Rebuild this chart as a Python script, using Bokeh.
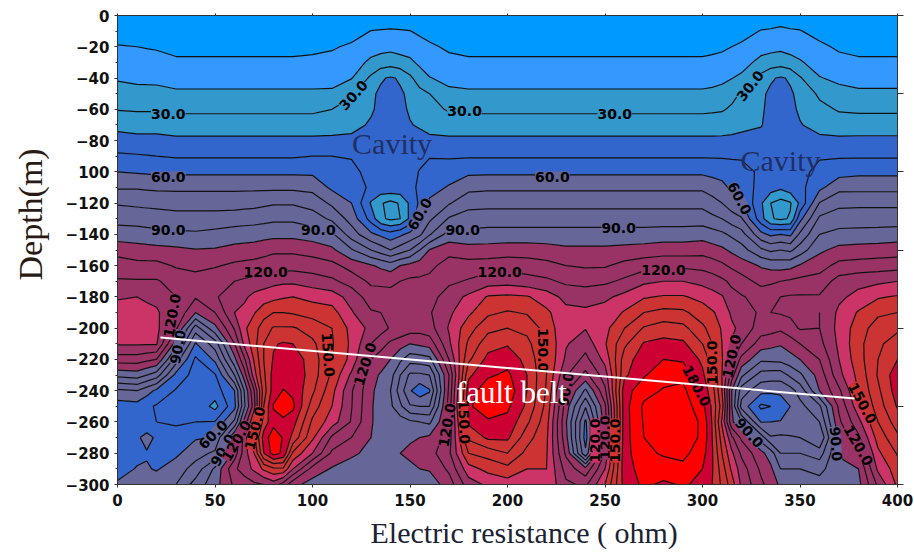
from bokeh.plotting import figure
from bokeh.embed import file_html
from bokeh.resources import INLINE
from bokeh.models import LinearAxis, FixedTicker, Range1d, Label, ColumnDataSource, Title
from bokeh.core.properties import value
import numpy as np

depths = list(range(0, -301, -10))

col_000 = [0,5.4,10.6,15,19,24,29.5,37,44,51.6,60,69,79,86.5,95,106,115,121,129,134,135,131,115,93,68,55,52,52,52,54,62]
col_010 = [0,5,10,14,18,23,29,36,43,51,59,69,78,86,94.5,104,113,121,130,135,136,131,115,95,70,56,52,58,56,61,68]
col_015 = [0,4.7,9.5,13.7,18,22.7,29,36,43,50.5,58.5,68.5,77.5,85.5,93.7,103.5,113,121,128,133.5,134.5,131,112.5,90,64,52,51,64,59,61,67]
col_020 = [0,4.5,9,13.5,18,22.5,29,36,43,50,58,68,77,85,93,103,113,121,126,132,133,131,110,85,58,49,50,58,55,59,66]
col_030 = [0,4,7.5,11.5,16.5,21.5,28,35,42,49,58,68,76,84,92,102,109,116,120,119,112,95,75,57,49,47,49,53,58,65,70]
col_040 = [0,4,7.5,11.5,16.5,21.5,28,35,42,49,58,68,76,84,91.5,100.5,108,113,111,100,75,59,48,46,46,47,50,59,66,74,84]
col_050 = [0,4,7.5,11.5,16.5,21.5,28,35,42,49,58,68,76,84,93,101,109,117,119,110,97,75,62,49,45,37,50.5,60.5,72,92,96]
col_060 = [0,4,7.5,11.5,16.5,21.5,28,35,42,49,58,68,76,85,95,103,112,120,125,130,121,110,97,80,60,57,72,100,104,118,112]
col_065 = [0,4,7.5,11.5,16.5,21.5,28,35,42,49,58,68,76.5,85.5,95.5,103.5,113,121.5,128,133,138,132,118,105,90,88,103,124,125,125,114]
col_070 = [0,4,7.5,11.5,16.5,21.5,28,35,42,49,58,68,77,86,96,104,114,123,133,139,146,146,141,135,119,115,130,148,140,132,118]
col_075 = [0,4,7.5,11.5,16.5,21.5,28,35,42,49,58,68,78,87,96.5,106,115,125,135,146,155,160,160,158,155,160,165,174,170,142,120]
col_080 = [0,4,7.5,11.5,16.5,21.5,28,35,42,49,58,68,79,88,97,108,116,127,137,150,161,169,171,174,175,181,176,187,184,148,125]
col_085 = [0,4,7.5,11.5,16.5,21.5,28,35,42,49,58,68,79,88,97,108,116,128,139,150,161,171,174,176,180.5,190,176,179,178,148,116]
col_090 = [0,4,7.5,11.5,16.5,21.5,28,35,42,49,58,68,79,88,97,108,116,128,140,149,161,170,176,178,178,182,174,167,148,130,103]
col_100 = [0,4.5,8,12,16.5,21.5,28,35,42,50,58,67,76,85,95,106,115,125,137,146,156,162,165,165,162,155,148,142,130,106,96]
col_110 = [0,4.5,9,13,17,21.5,30,36,42,50,52,58,68,78,92,102,113,122,135,144,150,151,150,148,143,140,135,118,108,99,92]
col_120 = [1,6,11.5,15.5,19.5,29,33.5,37.5,42,49.5,52,56,60,66,75,91,106,116,126,131,137,138,137,128,121,120.5,119,110,102,95,90]
col_130 = [3,10.2,16,22,32,38.5,39,41,44,46,47.5,48,39,46,62,80,101,108,115,121,127,120,110,103,102,101,100.5,100,97,93,90]
col_135 = [3.5,10.7,16.5,24.5,39,41.5,42,43,44.5,46,47,47,31,32,58,75,98,108,114,120,124,114,105,99,96,96,98,99,97,93,90]
col_140 = [4,11,17,26,41,43,44,45,45,46,46,48,27,28,54,70,95,108,113,118,119,108,100,94,90,92,96,98,97,93,90]
col_145 = [3.5,10.7,16,24,39,41,42,43,44.5,45.5,46.5,47,31,30,58,75,100,110,115,118,118,104,92,80,75,82,95,98,100,95,91]
col_150 = [3,10.2,15.5,22,32,38.5,39,40.5,44,45,47,47,42,42,63,80,103,112,116,118,115,100,84,68,61,71,92,98,103,97,92]
col_155 = [2.5,8.5,13,18,25,33,36,39,43,47.5,50.5,52,52,57,68,90,105,112,116,119,114,102,85,68,53,70,90,100,105,100,93]
col_160 = [2,6.5,11.5,15.5,20.4,30,33,37,42,49.5,53,56,62,68,79,100.5,107,113,116,119,116,104,87,70,59,70,88,102,106,101,94]
col_170 = [0,4.5,8.5,12.5,17.5,22,29,35,42,49,55,61,69,81,94,106,115,118,125,128,131,128,120,110,112,114,112,115,118,112,105]
col_180 = [0,4,7.5,11.5,16.5,21.5,28,35,42,49,58,67,77,84,93,104,114,121,132,138,146,152,158,168,175,178,172,162,150,136,125]
col_190 = [0,4,7.5,11.5,16.5,21.5,28,35,42,49,58,68,77,85,94,104,115,125,141,148,157,166,173,178.5,186,188,178,172,154,143,132]
col_200 = [0,4,7.5,11.5,16.5,21.5,28,35,42,49,58,68,77,85,94,105,116,126,142,151,160,169,176,182,186,182,177,172,160,147,135]
col_210 = [0,4,7.5,11.5,16.5,21.5,28,35,42,49,58,68,77,85,94,105,115,124,141,149,157,163,167,170,170,168,162,154,147,140,132]
col_220 = [0,4,7.5,11.5,16.5,21.5,28,35,42,49,58,68,77,85,94,104,113,122,135,142,146,149,150,150,149,147,144,142,141,140,138]
col_230 = [0,4,7.5,11.5,16.5,21.5,28,35,42,49,58,68,77,85,94,102,110,118,127,133,132,131,128,121,112,105,101,103,108,116,122]
col_240 = [0,4,7.5,11.5,16.5,21.5,28,35,42,49,58,68,77,85,94,102,109,116,127,131.5,130.5,124,117,107,88,71,58,56,62,103,118]
col_250 = [0,4,7.5,11.5,16.5,21.5,28,35,42,49,58,68,77,85,94,102,109,118,128,134,137,139,133,125,118,108,106,112,122,130,140]
col_260 = [0,4,7.5,11.5,16.5,21.5,28,35,42,49,58,68,77,85,94,103,113,122,133,141,150,158,165,168,176,176,176,176,176,176,174]
col_270 = [0,4,7.5,11.5,16.5,21.5,28,35,42,49,58,68,77,85,94,104,116,128,139,150,161,171,176,179,186,192,191,190,188,184,182]
col_280 = [0,4,7.5,11.5,16.5,21.5,28,35,42,49,58,68,77,85,95,105,118,130,141,153,165,173,180,186,191,196,197,197,191,186,178]
col_290 = [0,4,7.5,11.5,16.5,21.5,28,35,42,49,58,68,77,85,95,105,118,130,141,152,163,172,178.5,187,193,196,197,196,193,187,181]
col_300 = [0,4,7.5,11.5,16.5,21.5,28,35,42,49,58,68,77,85,96,106,117,127,137,145,152,160,168,172,176,183,188,188,184,180,178]
col_305 = [0,4,8,12,17,22,28.5,35,42,49,57,65.5,73.5,82.5,94,104,115,125,134,141,146,150,155,160,165,168,169,170,171,171,170]
col_310 = [0,4.5,8.5,13,18,23,29,35.5,42,49,56,63,70,80,92,102,112,122,131,137,139,140,141,140,140,145,138,145,150,155,158]
col_315 = [1,5.5,10,14.5,19.7,27,31.5,36,42.5,49,54,58,64,75,88,98,108,118,123,128,132,129,122,115,100,100,102,122,132,138,145]
col_320 = [2,6.5,11.5,16,22,31,34.5,37,43.5,49,53,55,61,71,84,94,105,114,121,126,127,120,107,92,75,66,90,108,118,125,128]
col_330 = [4,10.5,16,23,33,38.5,39,39.5,43,48,48.5,47,41.5,44,63,82,99,107,116,118,115,105,92,76,63,48,59.5,85,103,108,112]
col_335 = [4.5,11,17,24.5,39,41.5,42,43,44,46,47,45,30,31,58,78,97,108,118,120,114,103,92.5,75,62,50,60,71,95,102,106]
col_340 = [5,12,17.5,26,41,43,44,45,45,46,46,42,26,28,60,80,96,110,120,121,112,101,93,75,62,55,60.5,72,80,90,98]
col_345 = [4.5,11,16.5,23.5,39,41,42,43,44.5,46,46.5,46,29,31,58,78,97,111.5,121,122,116,105,96,82,66,60,63,71,80,90,95]
col_350 = [4,10.5,15.5,21,31,38,38.8,40.5,44,46,47,47,42,57,72,85,101,113,121,123,121,110,100,88,74,67,66,70,80,90,92]
col_360 = [2,6.5,12,16,20.5,28,33,37,42,49,53,57.5,70.5,82,90,98,106,114,121,120,120,117,110,104,100,78,70,60,75,87,94]
col_370 = [0,4,8.5,13,18,23,29,35,42,49,56,67,77.5,85,93,103,113,124,128,132,133,132,130,127,118,112,108,102,101,97,94]
col_380 = [0,4,7.5,11.5,17,21.5,28,35.5,42,49,57.5,67,78,85,93.5,104,114,127,133,141,145,147,146,143,141,136,127,118,108,100,97]
col_390 = [0,4,7.5,11.5,17,21.5,28,35.5,42,49,57.5,67,78,85,94,104.5,115,128,139,148,155,158,160,161,158,155,150,144,138,132,122]
col_400 = [0,4,7.5,11.5,17,21.5,28,35.5,42,49,57.5,67,78,85,95,105,116,130,141,150,158,165,170,176,175,171,165,158,151,145,142]

field = {0:col_000,10:col_010,15:col_015,20:col_020,30:col_030,40:col_040,50:col_050,60:col_060,65:col_065,70:col_070,
         75:col_075,80:col_080,85:col_085,90:col_090,100:col_100,110:col_110,120:col_120,130:col_130,135:col_135,
         140:col_140,145:col_145,150:col_150,155:col_155,160:col_160,170:col_170,180:col_180,190:col_190,200:col_200,
         210:col_210,220:col_220,230:col_230,240:col_240,250:col_250,260:col_260,270:col_270,280:col_280,290:col_290,
         300:col_300,305:col_305,310:col_310,315:col_315,320:col_320,330:col_330,335:col_335,340:col_340,345:col_345,
         350:col_350,360:col_360,370:col_370,380:col_380,390:col_390,400:col_400}

levels = [-10,10,20,30,40,50,60,70,80,90,100,110,120,130,140,150,160,170,180,190,210]
band_colors = ["#0099FF","#3399FF","#3399CC","#3399CC","#3366CC","#3366CC","#666699","#666699","#666699","#666699",
               "#993366","#993366","#993366","#CC3366","#CC3333","#CC3333","#CC3333","#CC0033","#FF0000","#FF0000"]

label_text = ["30.0","30.0","30.0","30.0","30.0","60.0","60.0","60.0","60.0",
              "90.0","90.0","90.0","90.0","120.0","120.0","120.0",
              "120.0","90.0","150.0","120.0","60.0","90.0","150.0","120.0","120.0",
              "150.0","150.0","90.0","120.0","150.0","120.0","180.0","150.0","120.0","90.0","150.0","120.0","90.0"]
label_x = [26,121,178,255,324.5,26,223,155,319,26,103,177,257,76,196,280,
           28,31,108,127,49,54,70.5,61,169,177.7,218,230,250,255,245,297,305,315,324,382,380,368.5]
label_y = [-63,-51,-61,-63,-45,-103,-103,-127,-117,-137,-137,-137,-136,-164,-164,-163,
           -192,-212,-217,-223,-268,-278,-264,-272,-262,-260,-214,-239,-270,-272,-272,-237,-222,-218,-267,-248,-275,-274]
label_angle = [0,48,0,0,52,0,0,60,-62,0,0,0,0,0,0,0,
               80,80,-86,72,45,60,75,60,80,-88,-90,80,90,90,90,-62,90,78,-48,-62,-60,-86]
label_bg = ["#3399CC","#3399CC","#3399CC","#3399CC","#3399CC","#666699","#666699","#666699","#666699",
            "#666699","#666699","#666699","#666699","#993366","#993366","#993366",
            "#993366","#666699","#CC3333","#993366","#666699","#666699","#CC3333","#993366","#993366",
            "#CC3333","#CC3333","#993366","#993366","#CC3333","#CC3366","#CC0033","#CC3333","#993366","#666699","#CC3333","#993366","#666699"]

fault_x = [22, 378]
fault_y = [-206, -245]

x_grid = np.array(sorted(field))
z = np.array([field[k] for k in sorted(field)]).T[::-1]
y_grid = np.array(depths[::-1])

p = figure(width=914, height=555, output_backend="svg", toolbar_location=None,
           x_range=Range1d(0, 400), y_range=Range1d(-300, 0),
           min_border_left=117, min_border_right=17, min_border_top=15, min_border_bottom=71,
           x_axis_type=None, y_axis_type=None, background_fill_color="white")
p.grid.visible = False
p.outline_line_color = "#333333"

p.contour(x_grid, y_grid, z, levels, fill_color=band_colors, line_color="#111111", line_width=1.2)

AX = "#333333"
bottom = LinearAxis(ticker=FixedTicker(ticks=list(range(0, 401, 50))))
left = LinearAxis(ticker=FixedTicker(ticks=list(range(0, -301, -20)), minor_ticks=list(range(0, -301, -10))),
                  major_label_overrides={-100: "100"})
for ax in (bottom, left):
    ax.major_label_text_font = "DejaVu Sans"
    ax.major_label_text_font_style = "bold"
    ax.major_label_text_font_size = "15px"
    ax.major_label_text_color = "#111111"
    ax.axis_line_color = AX
    ax.major_tick_line_color = AX
    ax.minor_tick_line_color = AX
    ax.major_tick_in = 0
    ax.major_tick_out = 3
    ax.minor_tick_in = 0
    ax.minor_tick_out = 2
bottom.major_label_standoff = 6
left.major_label_standoff = 5
p.add_layout(bottom, "below")
p.add_layout(left, "left")

top = LinearAxis(ticker=FixedTicker(ticks=list(range(0, 401, 50))), major_label_text_color=None,
                 major_label_text_font_size="1px", major_label_standoff=0,
                 major_tick_in=0, major_tick_out=2, minor_tick_line_color=None, axis_line_color=AX, major_tick_line_color=AX)
right = LinearAxis(ticker=FixedTicker(ticks=list(range(0, -301, -50))), major_label_text_color=None,
                   major_label_text_font_size="1px", major_label_standoff=0,
                   major_tick_in=0, major_tick_out=6, minor_tick_line_color=None, axis_line_color=AX, major_tick_line_color=AX)
p.add_layout(top, "above")
p.add_layout(right, "right")

src = ColumnDataSource(dict(x=label_x, y=label_y, t=label_text, a=label_angle, bg=label_bg))
p.text(x="x", y="y", text="t", angle="a", angle_units="deg", source=src,
       text_align="center", text_baseline="middle", text_font=value("DejaVu Sans"),
       text_font_style="bold", text_font_size="14px", text_color="#000000", background_fill_color="bg")

p.line(fault_x, fault_y, line_color="white", line_width=2)

SERIF = "Liberation Serif"
p.add_layout(Label(x=140.8, y=-82, text="Cavity", text_font=SERIF, text_font_size="30px", text_color="#1f2f66",
                   text_align="center", text_baseline="middle"))
p.add_layout(Label(x=340, y=-93, text="Cavity", text_font=SERIF, text_font_size="30px", text_color="#1f2f66",
                   text_align="center", text_baseline="middle"))
p.add_layout(Label(x=202, y=-241, text="fault belt", text_font=SERIF, text_font_size="31px", text_color="white",
                   text_align="center", text_baseline="middle"))

p.add_layout(Title(text="Electric resistance ( ohm)", align="left", offset=253, standoff=11,
                   text_font=SERIF, text_font_size="30px", text_font_style="normal", text_color="#1a2233"), "below")
p.add_layout(Title(text="Depth(m)", align="left", offset=204, standoff=23, vertical_align="top", text_font=SERIF,
                   text_font_size="34px", text_font_style="normal", text_color="#2a1a14"), "left")

open("out.html", "w").write(file_html(p, INLINE))
